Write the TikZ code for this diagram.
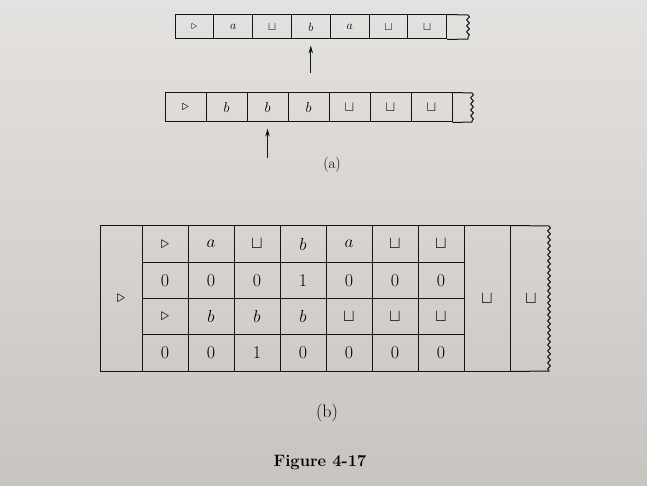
\documentclass[tikz,border=0pt]{standalone}
\usetikzlibrary{decorations.pathmorphing,arrows.meta}
\begin{document}
\begin{tikzpicture}[x=1pt,y=-1pt,
  ink/.style={draw=black!92, line width=1pt},
  torn/.style={decorate, decoration={snake, amplitude=1.4pt, segment length=6pt}},
  cellA/.style={ink, minimum width=38.8pt, minimum height=24pt, inner sep=0pt,
    font=\fontsize{13}{13}\selectfont, text=black},
  cellB/.style={ink, minimum width=41pt, minimum height=29pt, inner sep=0pt,
    font=\fontsize{15}{15}\selectfont, text=black},
  cellC/.style={ink, minimum width=46pt, minimum height=36.25pt, inner sep=0pt,
    font=\fontsize{18}{18}\selectfont, text=black},
  tall/.style={ink, minimum height=145pt, inner sep=0pt,
    font=\fontsize{18}{18}\selectfont, text=black},
  head/.style={draw=black!92, line width=1pt, -{Stealth[length=8pt,width=4.5pt]}},
  caption/.style={text=black, inner sep=0pt}]

\useasboundingbox (0,0) rectangle (647,486);
\shade[top color={rgb,255:red,228;green,226;blue,224}, bottom color={rgb,255:red,200;green,196;blue,192}]
  (0,0) rectangle (647,486);

% ---- (a) first tape ----
\foreach \s [count=\i] in {$\triangleright$,$a$,$\sqcup$,$b$,$a$,$\sqcup$,$\sqcup$}
  \node[cellA] (ua\i) at ({175+38.8*(\i-0.5)},27) {\s};
\draw[ink] (ua7.north east) -- (468,15) decorate[torn]{-- (468,39)} -- (ua7.south east);
\coordinate (ha) at (ua4.south |- 0,73);
\draw[head] (ha) -- ([yshift=-6pt]ua4.south);

% ---- (a) second tape ----
\foreach \s [count=\i] in {$\triangleright$,$b$,$b$,$b$,$\sqcup$,$\sqcup$,$\sqcup$}
  \node[cellB] (ub\i) at ({165+41*(\i-0.5)},107.5) {\s};
\draw[ink] (ub7.north east) -- (472,93) decorate[torn]{-- (472,122)} -- (ub7.south east);
\coordinate (hb) at (ub3.south |- 0,158);
\draw[head] (hb) -- ([yshift=-6pt]ub3.south);

\node[caption, font=\fontsize{15}{15}\selectfont] (capa) at (332,165) {(a)};

% ---- (b) multi-track tape ----
\node[tall, minimum width=42pt] (lm) at (121,298.5) {$\triangleright$};
\foreach \row [count=\r] in {
    {$\triangleright$,$a$,$\sqcup$,$b$,$a$,$\sqcup$,$\sqcup$},
    {0,0,0,1,0,0,0},
    {$\triangleright$,$b$,$b$,$b$,$\sqcup$,$\sqcup$,$\sqcup$},
    {0,0,1,0,0,0,0}}
  \foreach \s [count=\c] in \row
    \node[cellC] (g\r-\c) at ({142+46*(\c-0.5)},{226+36.25*(\r-0.5)}) {\s};
\node[tall, minimum width=46pt] (b8) at (487,298.5) {$\sqcup$};
\node[font=\fontsize{18}{18}\selectfont, text=black] (b9) at (531,298.5) {$\sqcup$};
\draw[ink] (b8.north east) -- (549,226) decorate[torn]{-- (549,371)} -- (b8.south east);

\node[caption, font=\fontsize{18}{18}\selectfont] (capb) at (327,413) {(b)};
\node[caption, font=\fontsize{16.5}{16.5}\selectfont\bfseries] (fig) at (320,463) {Figure 4-17};
\end{tikzpicture}
\end{document}
